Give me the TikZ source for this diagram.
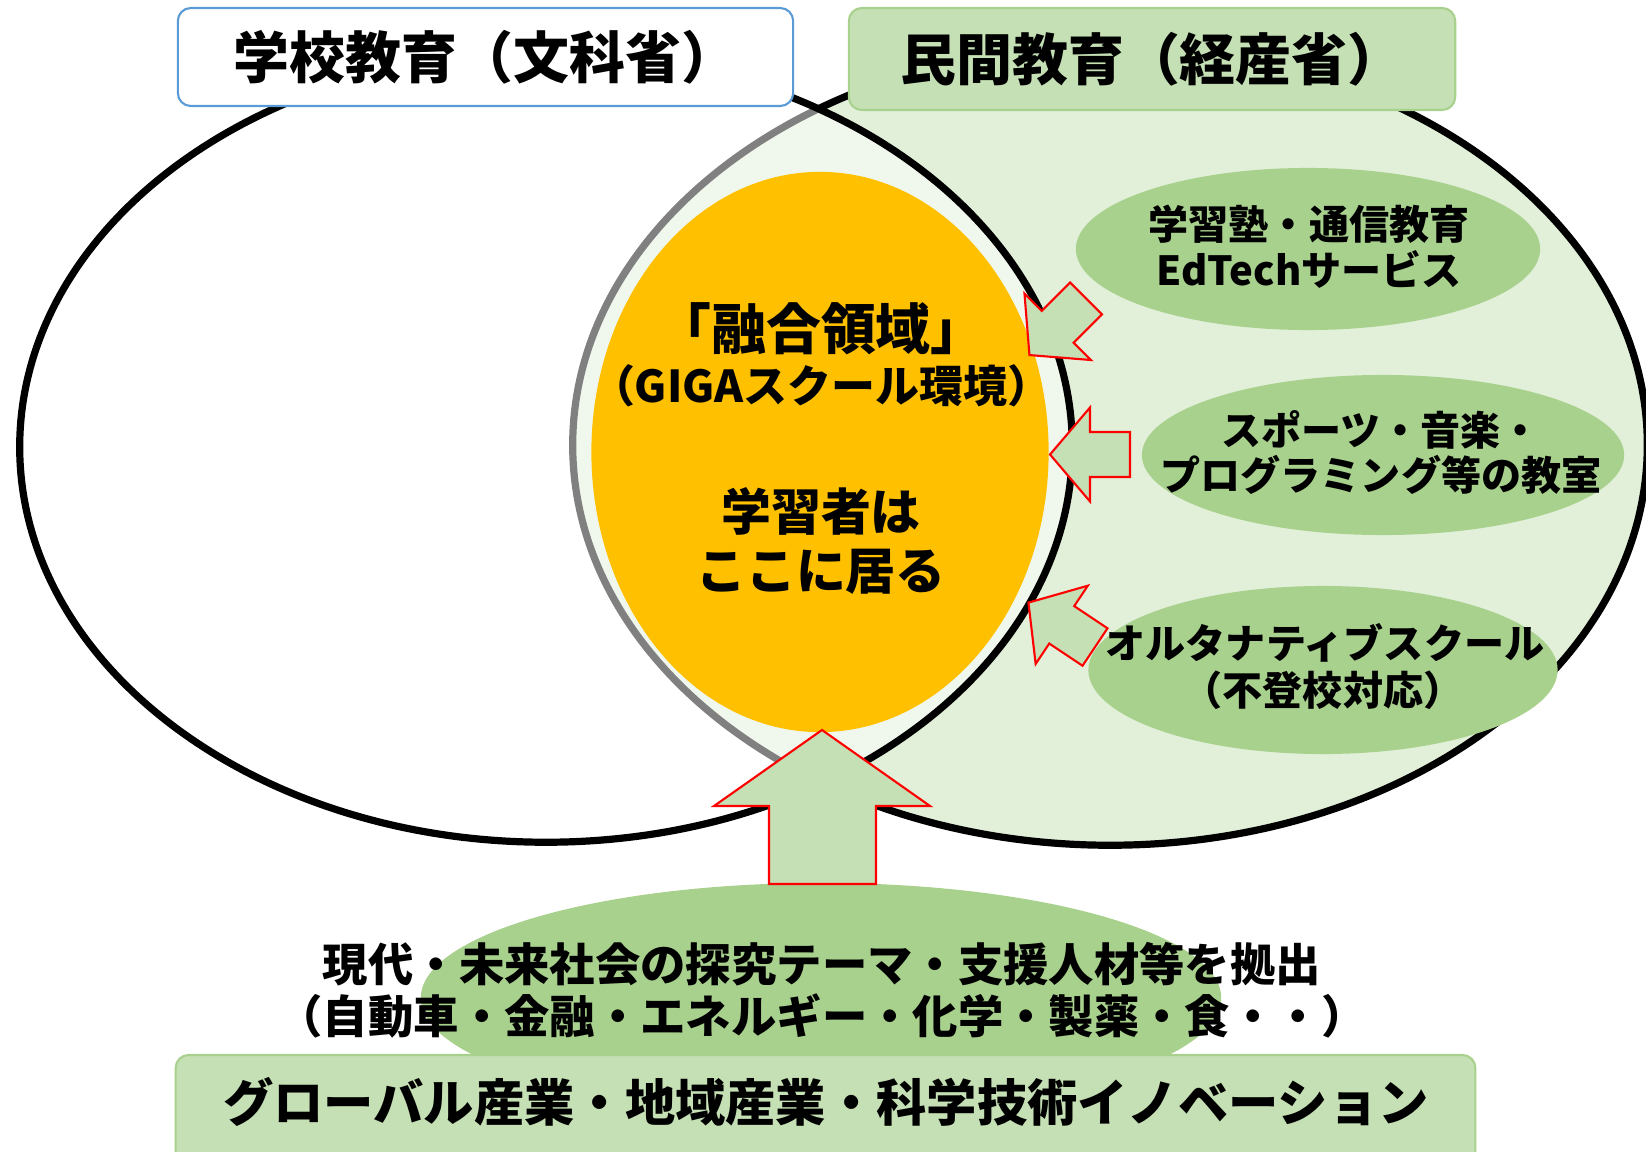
\documentclass[tikz,border=0pt]{standalone}
\usepackage{fontspec}
\setmainfont{Noto Sans CJK JP}
\usetikzlibrary{shapes.geometric}
\definecolor{setgreen}{HTML}{E2F0D9}
\definecolor{ovalgreen}{HTML}{A9D18E}
\definecolor{boxgreen}{HTML}{C5E0B4}
\definecolor{boxedge}{HTML}{A9D18E}
\definecolor{schoolblue}{HTML}{5B9BD5}
\definecolor{learner}{HTML}{FFC000}
\begin{document}
\begin{tikzpicture}[x=0.01cm,y=-0.01cm,
  setshape/.style={ellipse,inner sep=0pt,outer sep=0pt,draw=black,line width=0.072cm},
  oval/.style={ellipse,inner sep=0pt,outer sep=0pt,fill=ovalgreen},
  arrowbox/.style={fill=boxgreen,draw=red,line width=0.6pt,line join=miter},
  titlebox/.style={rectangle,rounded corners=0.13cm,inner sep=0pt,line width=0.6pt},
  txt/.style={inner sep=0pt,font=\bfseries\fontsize{#1}{#1}\selectfont},
  pics/sidearrow/.style={code={
    \draw[arrowbox] (0,22.5) -- (40,22.5) -- (40,47) -- (80,0) -- (40,-47) -- (40,-22.5) -- (0,-22.5) -- cycle;}}
]
\useasboundingbox (0,0) rectangle (1646,1152);
\clip (0,0) rectangle (1646,1152);

% the two sets
\node (private) [setshape,fill=setgreen,minimum width=10.74cm,minimum height=8cm] at (1110,445) {};
\node (school) [setshape,fill=white,fill opacity=0.5,minimum width=10.52cm,minimum height=7.9cm] at (546,447) {};

% learner region
\node (fusion) [ellipse,inner sep=0pt,fill=learner,minimum width=4.57cm,minimum height=5.6cm] at (820,452) {};

% private education ovals
\node (juku) [oval,minimum width=4.64cm,minimum height=1.62cm] at (1308,249) {};
\node (sports) [oval,minimum width=4.82cm,minimum height=1.60cm] at (1383,455) {};
\node (alt) [oval,minimum width=4.69cm,minimum height=1.68cm] at (1323,670) {};

% side arrows
\pic[rotate=-135] at (1086,298.5) {sidearrow};
\pic[rotate=180] at (1130,454.5) {sidearrow};
\pic[rotate=146.3] at (1095,647) {sidearrow};

% industry oval and box
\node (industryoval) [oval,minimum width=8cm,minimum height=2.3cm] at (821,998) {};
\node (industrybox) [titlebox,fill=boxgreen,draw=boxedge,minimum width=12.99cm,minimum height=1.2cm] at (825.5,1115) {};

% big up arrow
\draw[arrowbox] (769,884) -- (769,806) -- (714,806) -- (822,730) -- (930,806) -- (876,806) -- (876,884) -- cycle;

% title boxes
\node (schooltitle) [titlebox,fill=white,draw=schoolblue,minimum width=6.15cm,minimum height=0.98cm,txt=15.9pt] at (485.5,57) {学校教育（文科省）};
\node (privatetitle) [titlebox,fill=boxgreen,draw=boxedge,minimum width=6.06cm,minimum height=1.02cm,txt=15.9pt] at (1152,59) {民間教育（経産省）};

% center texts
\node (f1) [txt=15.6pt] at (821,329) {「融合領域」};
\node (f2) [txt=12.5pt] at (821,386) {（GIGAスクール環境）};
\node (f3) [txt=14.2pt] at (821,511) {学習者は};
\node (f4) [txt=14.2pt] at (821,572) {ここに居る};

% oval texts
\node (j1) [txt=11.4pt] at (1309,224) {学習塾・通信教育};
\node (j2) [txt=11.4pt] at (1309,269) {EdTechサービス};
\node (s1) [txt=11.4pt] at (1381,430) {スポーツ・音楽・};
\node (s2) [txt=11.4pt] at (1381,475) {プログラミング等の教室};
\node (a1) [txt=11.4pt] at (1325,643) {オルタナティブスクール};
\node (a2) [txt=11.4pt] at (1323,690) {（不登校対応）};

% bottom texts
\node (b1) [txt=12.9pt] at (822,964) {現代・未来社会の探究テーマ・支援人材等を拠出};
\node (b2) [txt=12.9pt] at (822,1016) {（自動車・金融・エネルギー・化学・製薬・食・・）};
\node (b3) [txt=14.3pt] at (826,1102) {グローバル産業・地域産業・科学技術イノベーション};
\end{tikzpicture}
\end{document}
